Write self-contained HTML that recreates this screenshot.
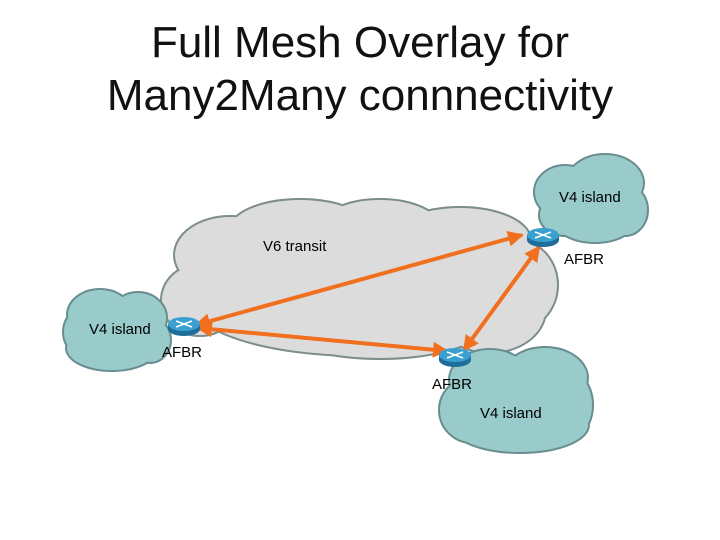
<!DOCTYPE html>
<html><head><style>
body{margin:0;background:#fff;}
svg{display:block;font-family:"Liberation Sans",Arial,sans-serif;}
</style></head><body>
<svg width="720" height="540" viewBox="0 0 720 540" xmlns="http://www.w3.org/2000/svg">
<defs>
<g id="gray">
<ellipse cx="230" cy="255" rx="55" ry="38"/>
<ellipse cx="300" cy="230" rx="70" ry="30"/>
<ellipse cx="380" cy="228" rx="60" ry="28"/>
<ellipse cx="460" cy="240" rx="70" ry="32"/>
<ellipse cx="515" cy="285" rx="42" ry="45"/>
<ellipse cx="200" cy="300" rx="38" ry="35"/>
<ellipse cx="360" cy="300" rx="170" ry="55"/>
<ellipse cx="380" cy="320" rx="110" ry="38"/>
<ellipse cx="490" cy="310" rx="55" ry="42"/>
</g>
<g id="tr">
<ellipse cx="565" cy="192" rx="30" ry="26"/>
<ellipse cx="605" cy="183" rx="38" ry="28"/>
<ellipse cx="625" cy="210" rx="22" ry="25"/>
<ellipse cx="595" cy="220" rx="40" ry="22"/>
<ellipse cx="565" cy="215" rx="25" ry="20"/>
</g>
<g id="lf">
<ellipse cx="100" cy="315" rx="32" ry="25"/>
<ellipse cx="138" cy="318" rx="28" ry="25"/>
<ellipse cx="112" cy="348" rx="45" ry="22"/>
<ellipse cx="88" cy="332" rx="24" ry="25"/>
<ellipse cx="150" cy="340" rx="20" ry="22"/>
</g>
<g id="bt">
<ellipse cx="490" cy="380" rx="40" ry="30"/>
<ellipse cx="545" cy="378" rx="42" ry="30"/>
<ellipse cx="520" cy="425" rx="68" ry="27"/>
<ellipse cx="472" cy="410" rx="32" ry="32"/>
<ellipse cx="565" cy="405" rx="27" ry="35"/>
</g>
<g id="router">
<ellipse cx="0" cy="5" rx="16" ry="7" fill="#1e6e9c"/>
<rect x="-16" y="0" width="32" height="5" fill="#1e6e9c"/>
<ellipse cx="0" cy="0" rx="16" ry="7" fill="#3aa0d0"/>
<path d="M-8,-3 L8,3 M-8,3 L8,-3" stroke="#fff" stroke-width="1.5"/>
</g>
<marker id="ah" markerWidth="4" markerHeight="4" refX="3.5" refY="2" orient="auto-start-reverse" markerUnits="strokeWidth"><path d="M0,0 L4,2 L0,4 z" fill="#f07020"/></marker>
</defs>
<text x="360" y="57" font-size="44" text-anchor="middle" fill="#111">Full Mesh Overlay for</text>
<text x="360" y="110" font-size="44" text-anchor="middle" fill="#111">Many2Many connnectivity</text>

<use href="#gray" fill="#7d8c8c" stroke="#7d8c8c" stroke-width="4"/>
<use href="#gray" fill="#dcdcdc"/>
<use href="#tr" fill="#6a8e90" stroke="#6a8e90" stroke-width="4"/>
<use href="#tr" fill="#99cbcb"/>
<use href="#lf" fill="#6a8e90" stroke="#6a8e90" stroke-width="4"/>
<use href="#lf" fill="#99cbcb"/>
<use href="#bt" fill="#6a8e90" stroke="#6a8e90" stroke-width="4"/>
<use href="#bt" fill="#99cbcb"/>

<g stroke="#f07020" stroke-width="4" fill="none">
<line x1="196" y1="325" x2="522" y2="235" marker-start="url(#ah)" marker-end="url(#ah)"/>
<line x1="198" y1="328" x2="447" y2="351" marker-start="url(#ah)" marker-end="url(#ah)"/>
<line x1="539" y1="247" x2="464" y2="350" marker-start="url(#ah)" marker-end="url(#ah)"/>
</g>
<use href="#router" x="184" y="324"/>
<use href="#router" x="543" y="235"/>
<use href="#router" x="455" y="355"/>

<g font-size="15" fill="#000">
<text x="559" y="202">V4 island</text>
<text x="263" y="251">V6 transit</text>
<text x="564" y="264">AFBR</text>
<text x="89" y="334">V4 island</text>
<text x="162" y="357">AFBR</text>
<text x="432" y="389">AFBR</text>
<text x="480" y="418">V4 island</text>
</g>
</svg>
</body></html>
